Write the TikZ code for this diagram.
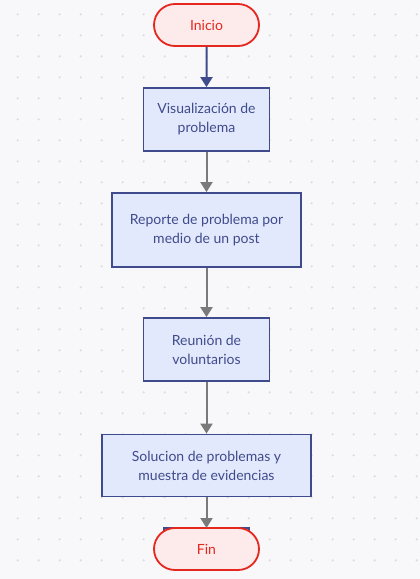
\documentclass[tikz,border=0pt]{standalone}
\usepackage{fontspec}
\setmainfont{Lato}
\usetikzlibrary{arrows.meta,shapes.misc}
\definecolor{bg}{HTML}{F8F8FA}
\definecolor{dotc}{HTML}{DCDCE0}
\definecolor{boxfill}{HTML}{E3E9FC}
\definecolor{boxline}{HTML}{3F4B8C}
\definecolor{termline}{HTML}{E5271E}
\definecolor{termfill}{HTML}{FDEAEA}
\definecolor{arrgray}{HTML}{7A7A7A}
\tikzset{
  procbox/.style={draw=boxline, fill=boxfill, line width=1.8pt, text=boxline, align=center,
    font=\fontsize{14}{19}\selectfont, inner sep=0pt},
  termbox/.style={draw=termline, fill=termfill, line width=1.8pt, text=termline,
    rounded rectangle, minimum width=105pt, minimum height=42pt, inner sep=0pt,
    font=\fontsize{14}{19}\selectfont},
  flowarr/.style={draw=arrgray, line width=2pt, -{Triangle[width=12pt,length=10pt]}},
}
\begin{document}
\begin{tikzpicture}[x=1pt,y=-1pt]
\useasboundingbox (0,0) rectangle (420,579);
\fill[bg] (0,0) rectangle (420,579);
\foreach \i in {0,...,19}{
  \foreach \j in {0,...,27}{
    \fill[dotc] ({17.7+21*\i},{14.3+21*\j}) circle (1.2pt);
  }
}
\node[termbox] (inicio) at (206.5,25) {Inicio};
\node[procbox, minimum width=126pt, minimum height=63pt] (b1) at (206.5,119.5) {Visualización de\\problema};
\node[procbox, minimum width=189pt, minimum height=74pt] (b2) at (206.5,230) {Reporte de problema por\\medio de un post};
\node[procbox, minimum width=126pt, minimum height=63pt] (b3) at (206.5,349.5) {Reunión de\\voluntarios};
\node[procbox, minimum width=209pt, minimum height=62pt] (b4) at (206.5,465.5) {Solucion de problemas y\\muestra de evidencias};
\coordinate (hid) at (206.5,528);
\draw[boxline, line width=1.8pt] (164,536) -- (164,528) -- (249,528) -- (249,536);
\node[termbox] (fin) at (206.5,549) {Fin};
\draw[flowarr, draw=boxline, -{Triangle[width=12pt,length=10pt,fill=boxline]}] (inicio) -- (b1);
\draw[flowarr] (b1) -- (b2);
\draw[flowarr] (b2) -- (b3);
\draw[flowarr] (b3) -- (b4);
\draw[flowarr] (b4) -- (hid);
\end{tikzpicture}
\end{document}
